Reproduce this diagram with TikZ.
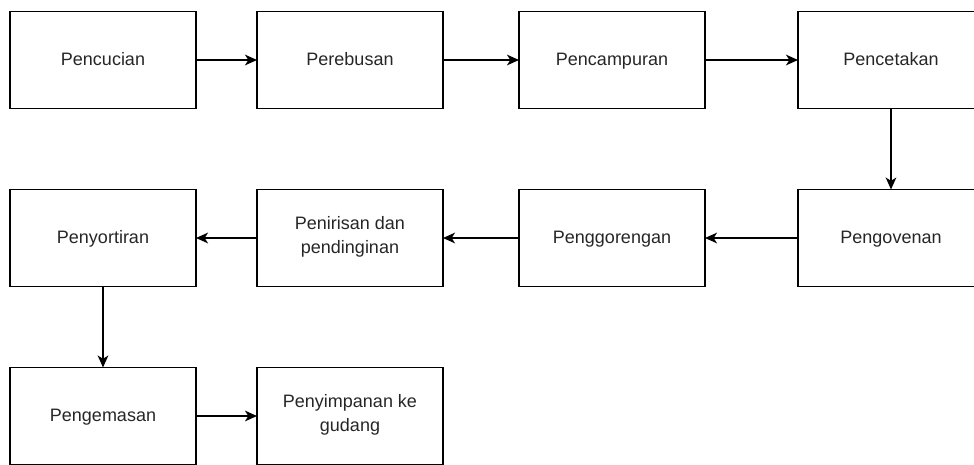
\documentclass[tikz,border=0pt]{standalone}
\usepackage{fontspec}
\setmainfont{Liberation Sans}
\usetikzlibrary{positioning,arrows.meta}

\newcommand\boxstrut{\rule[-4.5pt]{0pt}{17.6pt}}

\tikzset{
  process/.style={draw, line width=1.1pt, minimum width=139.5pt, minimum height=72.75pt,
    inner sep=0pt, outer sep=0pt, align=center, text=black!85, font=\fontsize{13.5}{18.5}\selectfont,
    execute at begin node=\boxstrut, execute at end node=\boxstrut},
  flow/.style={-{Stealth[length=9pt,width=8pt,inset=2.5pt]}, line width=1.1pt},
}

\begin{document}
\begin{tikzpicture}
    \useasboundingbox (0,0) rectangle (730.5pt,-348pt);
    \clip (0,0) rectangle (730.5pt,-348pt);
    % baris pertama
    \node[process] (cuci) at (77.25pt,-45pt) {Pencucian};
    \node[process, right=45.75pt of cuci] (rebus) {Perebusan};
    \node[process, right=57pt of rebus] (campur) {Pencampuran};
    \node[process, right=69.75pt of campur] (cetak) {Pencetakan};
    % baris kedua
    \node[process, below=60.75pt of cetak] (oven) {Pengovenan};
    \node[process, below=60.75pt of campur] (goreng) {Penggorengan};
    \node[process, below=60.75pt of rebus] (tiris) {Penirisan dan\\pendinginan};
    \node[process, below=60.75pt of cuci] (sortir) {Penyortiran};
    % baris ketiga
    \node[process, below=60.75pt of sortir] (kemas) {Pengemasan};
    \node[process, below=60.75pt of tiris] (simpan) {Penyimpanan ke\\gudang};

    \draw[flow] (cuci) -- (rebus);
    \draw[flow] (rebus) -- (campur);
    \draw[flow] (campur) -- (cetak);
    \draw[flow] (cetak) -- (oven);
    \draw[flow] (oven) -- (goreng);
    \draw[flow] (goreng) -- (tiris);
    \draw[flow] (tiris) -- (sortir);
    \draw[flow] (sortir) -- (kemas);
    \draw[flow] (kemas) -- (simpan);
\end{tikzpicture}
\end{document}
